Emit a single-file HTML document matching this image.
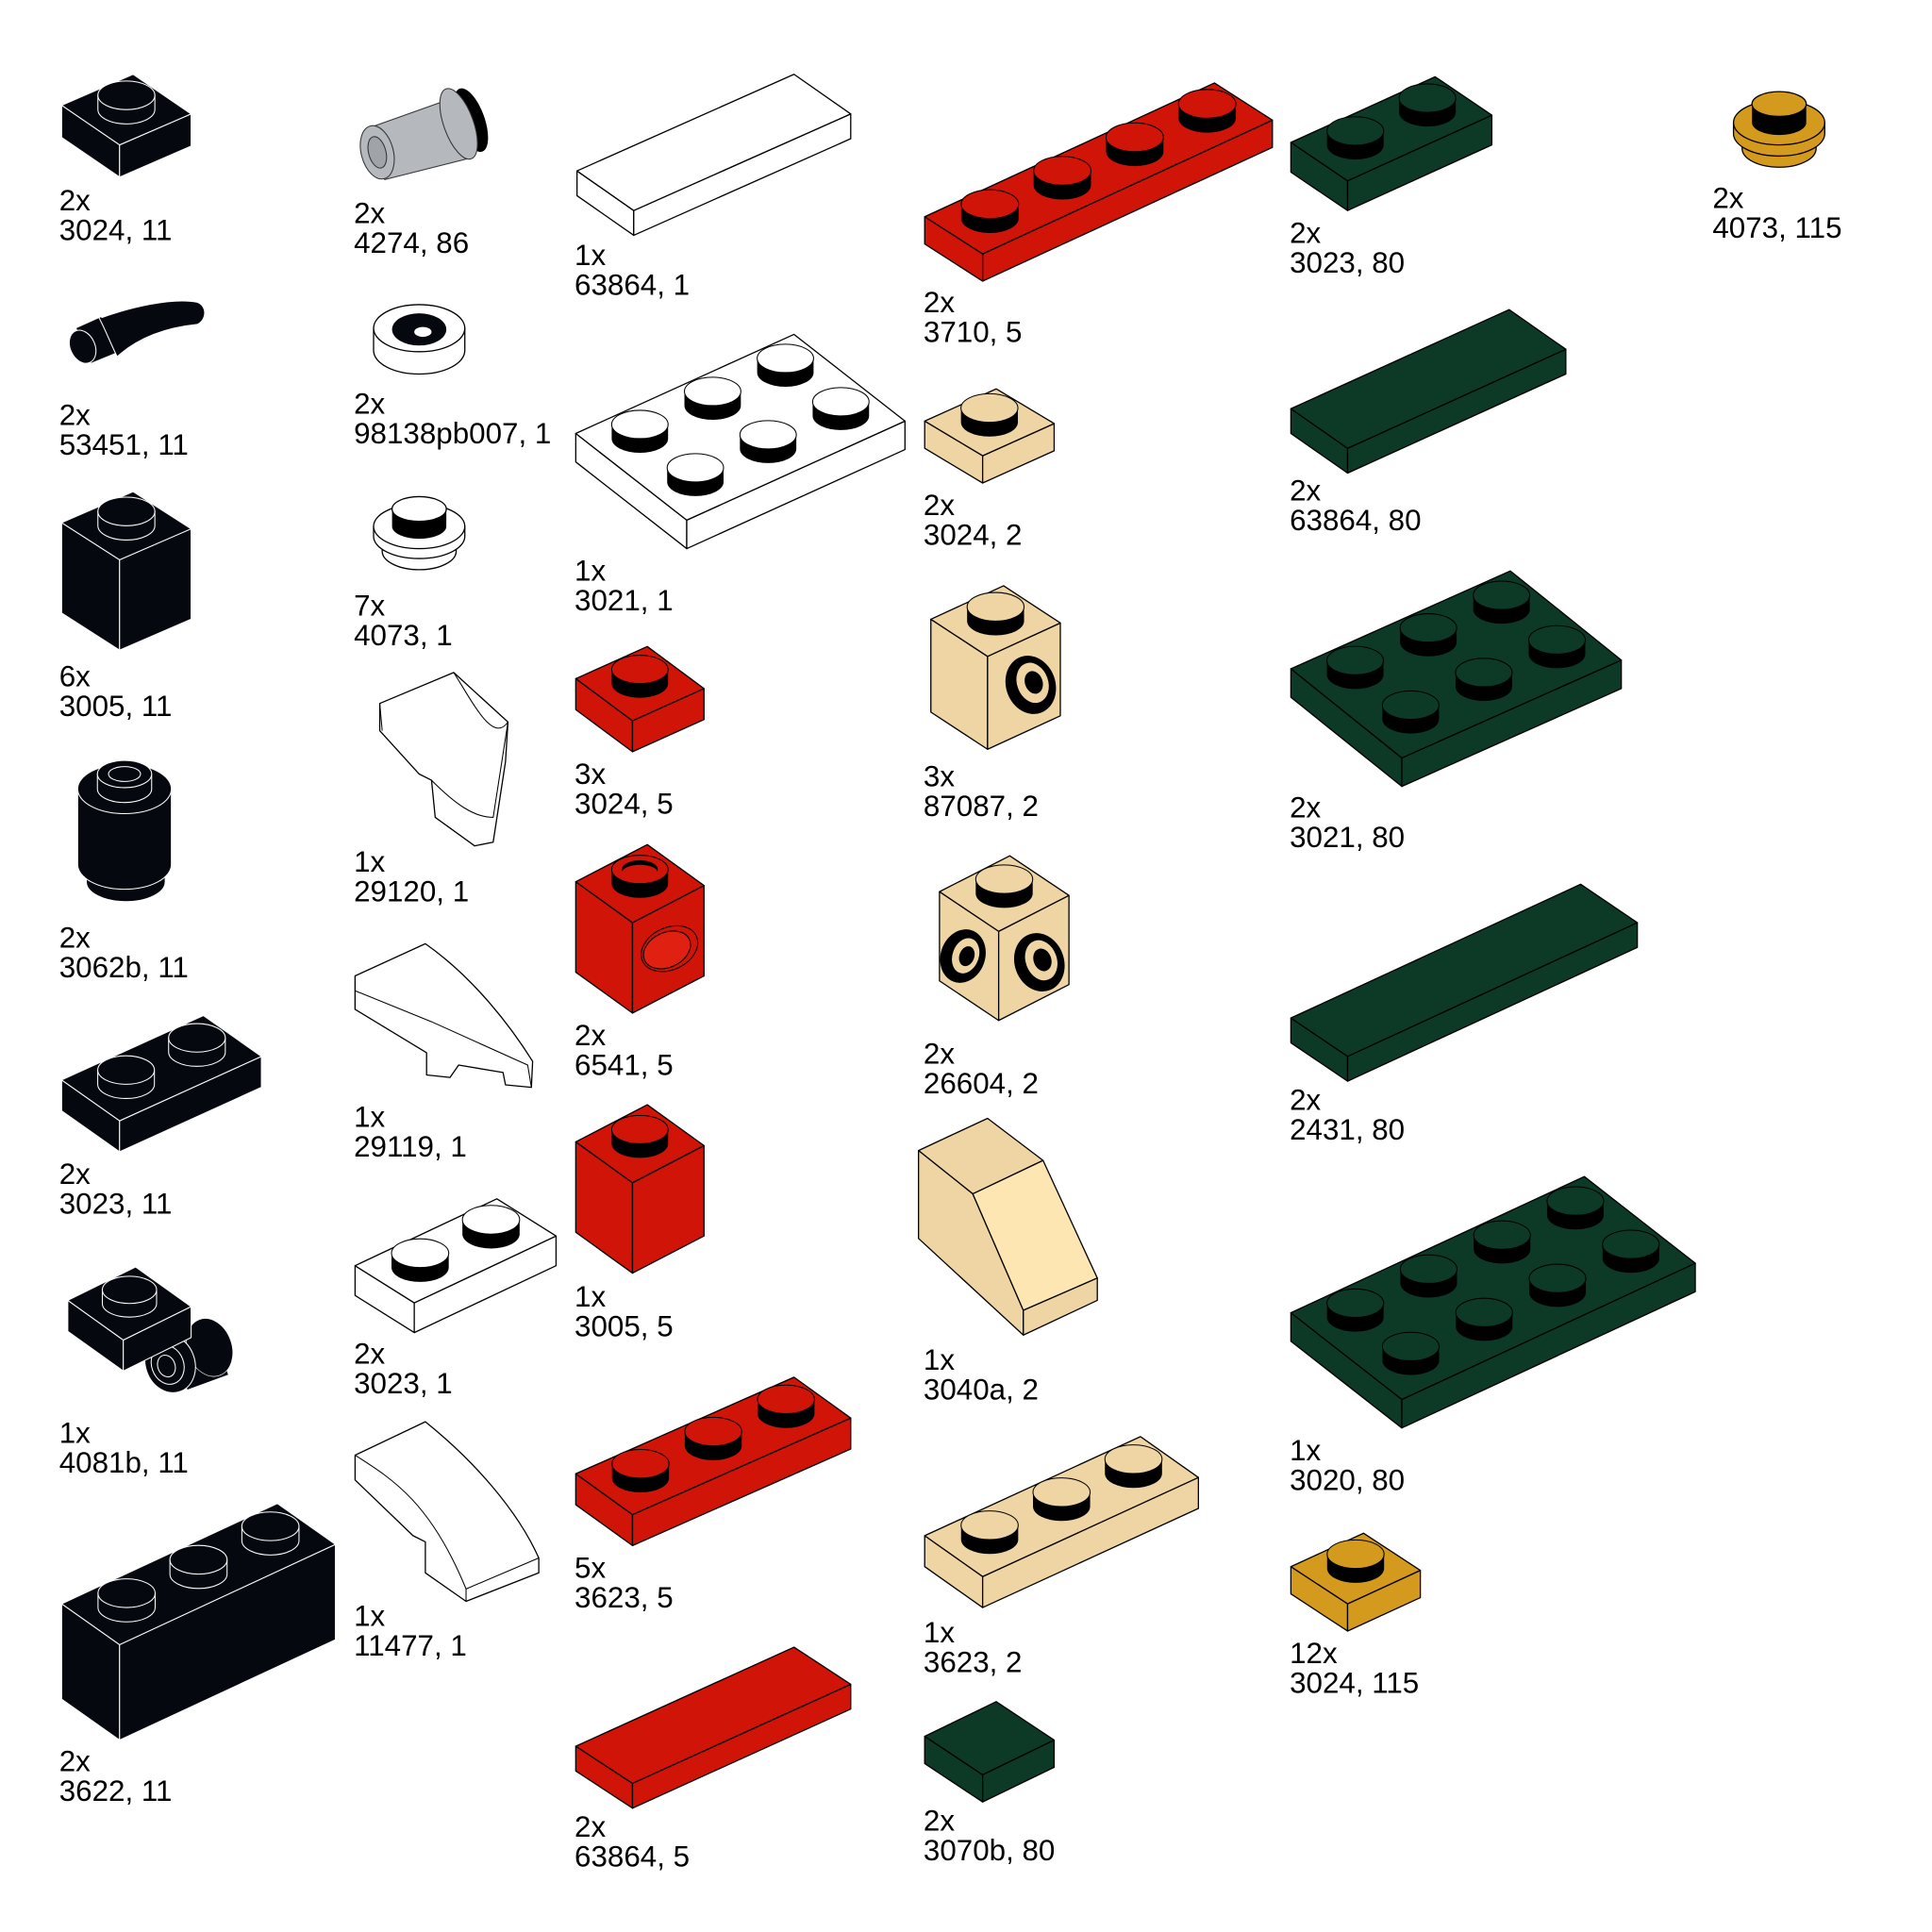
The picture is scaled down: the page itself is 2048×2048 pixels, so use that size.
<!DOCTYPE html>
<html><head><meta charset="utf-8">
<style>
html,body{margin:0;padding:0;background:#fff;}
svg{display:block;}
text{font-family:"Liberation Sans",sans-serif;font-size:24px;fill:#000;}
</style></head>
<body>
<svg id="s" xmlns="http://www.w3.org/2000/svg" width="2048" height="2048" viewBox="0 0 1567 1560" preserveAspectRatio="none">
<rect width="1567" height="1560" fill="#fff"/>
<g id="parts"></g>
<g id="special" stroke-linejoin="round">
<path d="M78,258 C105,248 140,240 160,244 C168,247 168,258 160,262 C140,264 115,270 95,288 Z" fill="#05080f" stroke="#fff" stroke-width="0.8"/>
<path d="M62,265 L82,256 L96,284 L74,293 Z" fill="#05080f"/>
<ellipse cx="67" cy="280" rx="10" ry="14" transform="rotate(-25 67 280)" fill="#05080f" stroke="#fff" stroke-width="0.8"/>
<path d="M80,256 C85,265 90,278 95,288" fill="none" stroke="#fff" stroke-width="0.8"/>
<path d="M300,103 L365,80 L380,128 L312,145 Z" fill="#b5b9bd" stroke="#333" stroke-width="0.8"/>
<ellipse cx="306" cy="123" rx="13" ry="22" transform="rotate(-15 306 123)" fill="#b5b9bd" stroke="#333" stroke-width="0.8"/>
<ellipse cx="306" cy="123" rx="7" ry="13" transform="rotate(-15 306 123)" fill="#a0a4a8" stroke="#333" stroke-width="0.8"/>
<ellipse cx="382" cy="97" rx="11" ry="27" transform="rotate(-20 382 97)" fill="#000"/>
<ellipse cx="372" cy="100" rx="12" ry="30" transform="rotate(-20 372 100)" fill="#b5b9bd" stroke="#333" stroke-width="0.8"/>
<path d="M303,265 L303,283 A37,19 0 0 0 377,283 L377,265 Z" fill="#fff" stroke="#000" stroke-width="1"/>
<ellipse cx="340" cy="265" rx="37" ry="19" fill="#fff" stroke="#000" stroke-width="1"/>
<ellipse cx="340" cy="266" rx="22" ry="13" fill="#05080f"/>
<ellipse cx="343" cy="268" rx="7" ry="4" fill="#fff"/>
<path d="M310,435 L310,445 A30,15 0 0 0 370,445 L370,435 Z" fill="#fff" stroke="#000"/>
<path d="M303,425 L303,433 A37,18 0 0 0 377,433 L377,425 Z" fill="#fff" stroke="#000"/>
<ellipse cx="340" cy="425" rx="37" ry="18" fill="#fff" stroke="#000"/>
<path d="M318,411 L318,425 A22,10 0 0 0 362,425 L362,411 Z" fill="#000"/>
<ellipse cx="340" cy="411" rx="22" ry="10" fill="#fff" stroke="#000"/>
<path d="M1413,110 L1413,120 A30,15 0 0 0 1473,120 L1473,110 Z" fill="#d49a1e" stroke="#000"/>
<path d="M1406,99 L1406,108 A37,18 0 0 0 1480,108 L1480,99 Z" fill="#d49a1e" stroke="#000"/>
<ellipse cx="1443" cy="99" rx="37" ry="18" fill="#d49a1e" stroke="#000"/>
<path d="M1421,84 L1421,99 A22,10 0 0 0 1465,99 L1465,84 Z" fill="#000"/>
<ellipse cx="1443" cy="84" rx="22" ry="10" fill="#d49a1e" stroke="#000"/>
<path d="M70,700 L70,712 A32,16 0 0 0 134,712 L134,700 Z" fill="#05080f" stroke="#fff" stroke-width="0.8"/>
<path d="M63,637 L63,698 A38,20 0 0 0 139,698 L139,637 Z" fill="#05080f" stroke="#fff" stroke-width="0.8"/>
<ellipse cx="101" cy="637" rx="38" ry="20" fill="#05080f" stroke="#fff" stroke-width="0.8"/>
<path d="M79,625 L79,637 A22,11 0 0 0 123,637 L123,625 Z" fill="#05080f" stroke="#fff" stroke-width="0.8"/>
<ellipse cx="101" cy="625" rx="22" ry="11" fill="#05080f" stroke="#fff" stroke-width="0.8"/>
<ellipse cx="101" cy="625" rx="13" ry="6" fill="none" stroke="#fff" stroke-width="0.8"/>
<path d="M308,568 L368,543 L412,583 L410,615 L400,680 L385,683 L353,660 L350,630 L340,625 L308,590 Z" fill="#fff" stroke="#000" stroke-width="1"/>
<path d="M308,568 L310,590 M368,543 C385,570 400,600 412,583 M350,630 C370,650 385,660 400,660 L412,583" fill="none" stroke="#000" stroke-width="0.8"/>
<path d="M288,788 L345,762 C385,790 415,830 432,857 L431,878 L410,876 L408,866 L372,860 L365,870 L346,868 L346,850 L288,815 Z" fill="#fff" stroke="#000" stroke-width="1"/>
<path d="M288,788 L288,815 M288,800 L350,825 L428,860 L431,878" fill="none" stroke="#000" stroke-width="0.8"/>
<path d="M288,1175 L345,1148 C385,1180 420,1220 437,1258 L437,1270 L378,1293 L345,1270 L345,1245 L335,1240 L288,1195 Z" fill="#fff" stroke="#000" stroke-width="1"/>
<path d="M288,1175 C320,1195 350,1215 378,1283 L437,1258 M378,1283 L378,1293" fill="none" stroke="#000" stroke-width="0.8"/>
<path d="M745,929 L801,903 L846,937 L789,964 Z" fill="#efd5a3" stroke="#000" stroke-width="1"/>
<path d="M745,929 L789,964 L830,1058 L830,1078 L745,1000 Z" fill="#efd5a3" stroke="#000" stroke-width="1"/>
<path d="M789,964 L846,937 L890,1032 L830,1058 Z" fill="#fde6b2" stroke="#000" stroke-width="1"/>
<path d="M830,1058 L890,1032 L890,1050 L830,1078 Z" fill="#efd5a3" stroke="#000" stroke-width="1"/>
<path d="M138,1077 L170,1065 L185,1110 L152,1122 Z" fill="#05080f"/>
<ellipse cx="170" cy="1088" rx="18" ry="24" transform="rotate(-20 170 1088)" fill="#05080f" stroke="#fff" stroke-width="0.5"/>
<ellipse cx="138" cy="1101" rx="20" ry="24" transform="rotate(-20 138 1101)" fill="#05080f" stroke="#fff" stroke-width="0.8"/>
<ellipse cx="136" cy="1102" rx="13" ry="16" transform="rotate(-20 136 1102)" fill="#05080f" stroke="#fff" stroke-width="0.8"/>
<ellipse cx="135" cy="1103" rx="7" ry="9" transform="rotate(-20 135 1103)" fill="#05080f" stroke="#fff" stroke-width="0.8"/>
</g>
<g id="over"></g>
<g>
<text x="48" y="170">2x</text><text x="48" y="194">3024, 11</text>
<text x="48" y="343">2x</text><text x="48" y="367">53451, 11</text>
<text x="48" y="554">6x</text><text x="48" y="578">3005, 11</text>
<text x="48" y="765">2x</text><text x="48" y="789">3062b, 11</text>
<text x="48" y="956">2x</text><text x="48" y="980">3023, 11</text>
<text x="48" y="1165">1x</text><text x="48" y="1189">4081b, 11</text>
<text x="48" y="1430">2x</text><text x="48" y="1454">3622, 11</text>
<text x="287" y="180">2x</text><text x="287" y="204">4274, 86</text>
<text x="287" y="334">2x</text><text x="287" y="358">98138pb007, 1</text>
<text x="287" y="497">7x</text><text x="287" y="521">4073, 1</text>
<text x="287" y="704">1x</text><text x="287" y="728">29120, 1</text>
<text x="287" y="910">1x</text><text x="287" y="934">29119, 1</text>
<text x="287" y="1101">2x</text><text x="287" y="1125">3023, 1</text>
<text x="287" y="1313">1x</text><text x="287" y="1337">11477, 1</text>
<text x="466" y="214">1x</text><text x="466" y="238">63864, 1</text>
<text x="466" y="469">1x</text><text x="466" y="493">3021, 1</text>
<text x="466" y="633">3x</text><text x="466" y="657">3024, 5</text>
<text x="466" y="844">2x</text><text x="466" y="868">6541, 5</text>
<text x="466" y="1055">1x</text><text x="466" y="1079">3005, 5</text>
<text x="466" y="1274">5x</text><text x="466" y="1298">3623, 5</text>
<text x="466" y="1483">2x</text><text x="466" y="1507">63864, 5</text>
<text x="749" y="252">2x</text><text x="749" y="276">3710, 5</text>
<text x="749" y="416">2x</text><text x="749" y="440">3024, 2</text>
<text x="749" y="635">3x</text><text x="749" y="659">87087, 2</text>
<text x="749" y="859">2x</text><text x="749" y="883">26604, 2</text>
<text x="749" y="1106">1x</text><text x="749" y="1130">3040a, 2</text>
<text x="749" y="1326">1x</text><text x="749" y="1350">3623, 2</text>
<text x="749" y="1478">2x</text><text x="749" y="1502">3070b, 80</text>
<text x="1046" y="196">2x</text><text x="1046" y="220">3023, 80</text>
<text x="1046" y="404">2x</text><text x="1046" y="428">63864, 80</text>
<text x="1046" y="660">2x</text><text x="1046" y="684">3021, 80</text>
<text x="1046" y="896">2x</text><text x="1046" y="920">2431, 80</text>
<text x="1046" y="1179">1x</text><text x="1046" y="1203">3020, 80</text>
<text x="1046" y="1343">12x</text><text x="1046" y="1367">3024, 115</text>
<text x="1389" y="168">2x</text><text x="1389" y="192">4073, 115</text>
</g>
</svg>
<script>
(function(){
var NS="http://www.w3.org/2000/svg";
var G=document.getElementById("parts"), O=document.getElementById("over");
var BK="#05080f",RD="#d01408",TN="#efd5a3",GR="#0d3a27",GD="#d49a1e",WH="#ffffff";
function el(p,tag,a){var e=document.createElementNS(NS,tag);for(var k in a)e.setAttribute(k,a[k]);p.appendChild(e);return e;}
function pts(a){return a.map(function(p){return p[0]+","+p[1];}).join(" ");}
function box(L,B,R,h,nA,nB,col,opt){
  opt=opt||{};
  var g=opt.g||G;
  var st=col==BK?"#fff":"#000", sw=col==BK?0.8:1;
  var T=[L[0]+R[0]-B[0],L[1]+R[1]-B[1]];
  el(g,"polygon",{points:pts([L,B,[B[0],B[1]+h],[L[0],L[1]+h]]),fill:col,stroke:st,"stroke-width":sw,"stroke-linejoin":"round"});
  el(g,"polygon",{points:pts([B,R,[R[0],R[1]+h],[B[0],B[1]+h]]),fill:col,stroke:st,"stroke-width":sw,"stroke-linejoin":"round"});
  el(g,"polygon",{points:pts([L,B,R,T]),fill:col,stroke:st,"stroke-width":sw,"stroke-linejoin":"round"});
  if(!nA)return;
  var a=[(B[0]-L[0])/nA,(B[1]-L[1])/nA], b=[(R[0]-B[0])/nB,(R[1]-B[1])/nB];
  var rx=0.22*(Math.abs(a[0])+Math.abs(b[0])), ry=rx*0.5, sh=rx*0.5;
  var list=[];
  for(var i=0;i<nA;i++)for(var j=0;j<nB;j++){
    list.push([L[0]+(i+.5)*a[0]+(j+.5)*b[0], L[1]+(i+.5)*a[1]+(j+.5)*b[1]]);
  }
  list.sort(function(p,q){return p[1]-q[1];});
  list.forEach(function(c){
    var x=c[0],y=c[1];
    el(g,"path",{d:"M"+(x-rx)+","+(y-sh)+" L"+(x-rx)+","+y+" A"+rx+","+ry+" 0 0 0 "+(x+rx)+","+y+" L"+(x+rx)+","+(y-sh)+" Z",fill:col==BK?BK:"#000",stroke:col==BK?"#fff":"none","stroke-width":0.8});
    el(g,"ellipse",{cx:x,cy:y-sh,rx:rx,ry:ry,fill:col,stroke:st,"stroke-width":0.8});
    if(opt.hollow){el(g,"ellipse",{cx:x,cy:y-sh,rx:rx*0.62,ry:ry*0.62,fill:"#000",stroke:st,"stroke-width":0.8});
      el(g,"ellipse",{cx:x,cy:y-sh+2,rx:rx*0.62,ry:ry*0.5,fill:col});}
  });
}
box([50,85],[97,117],[155,92],26,1,1,BK);
box([50,422],[97,452],[155,427],73,1,1,BK);
box([50,872],[97,905],[212,853],25,1,2,BK);
box([50,1295],[97,1328],[272,1247],77,1,3,BK);
box([288,1022],[336,1052],[451,998],24,1,2,WH);
box([468,138],[514,170],[690,92],20,0,0,WH);
box([467,350],[557,420],[734,340],23,2,3,WH);
box([467,548],[513,582],[571,556],25,1,1,RD);
box([467,712],[513,745],[571,715],73,1,1,RD,{hollow:true});
box([467,922],[513,955],[571,925],73,1,1,RD);
box([467,1190],[513,1223],[690,1145],25,1,3,RD);
box([467,1410],[513,1440],[690,1360],20,0,0,RD);
box([750,175],[797,205],[1032,97],22,1,4,RD);
box([750,340],[797,368],[855,342],22,1,1,TN);
box([755,500],[801,530],[860,503],75,1,1,TN);
box([762,720],[810,752],[867,723],72,1,1,TN);
box([750,1240],[797,1273],[972,1193],25,1,3,TN);
box([750,1402],[797,1433],[855,1405],22,0,0,GR);
box([1047,115],[1093,146],[1210,93],24,1,2,GR);
box([1047,330],[1093,362],[1270,282],20,0,0,GR);
box([1047,540],[1137,612],[1315,533],23,2,3,GR);
box([1047,822],[1093,853],[1328,745],20,0,0,GR);
box([1047,1060],[1137,1130],[1375,1020],23,2,4,GR);
box([1047,1265],[1093,1295],[1152,1268],22,1,1,GD);
box([55,1050],[100,1082],[155,1055],25,1,1,BK,{g:O});
function ring(cx,cy,rot,outer,inner,colIn){
  el(O,"ellipse",{cx:cx,cy:cy,rx:outer[0],ry:outer[1],transform:"rotate("+rot+" "+cx+" "+cy+")",fill:"#000"});
  el(O,"ellipse",{cx:cx+2,cy:cy-1,rx:inner[0],ry:inner[1],transform:"rotate("+rot+" "+cx+" "+cy+")",fill:colIn,stroke:"#000","stroke-width":0.8});
  el(O,"ellipse",{cx:cx+3,cy:cy-1,rx:inner[0]*0.55,ry:inner[1]*0.55,transform:"rotate("+rot+" "+cx+" "+cy+")",fill:"#000"});
}
el(O,"ellipse",{cx:543,cy:766,rx:24,ry:17,transform:"rotate(-25 543 766)",fill:"none",stroke:"#000","stroke-width":0.8});
el(O,"ellipse",{cx:541,cy:767,rx:20,ry:14,transform:"rotate(-25 541 767)",fill:"#e02010",stroke:"#000","stroke-width":0.8});
ring(836,553,-20,[20,24],[13,17],TN);
ring(781,772,20,[18,22],[11,15],TN);
ring(843,777,-20,[20,24],[13,17],TN);
})();
</script>
</body></html>
